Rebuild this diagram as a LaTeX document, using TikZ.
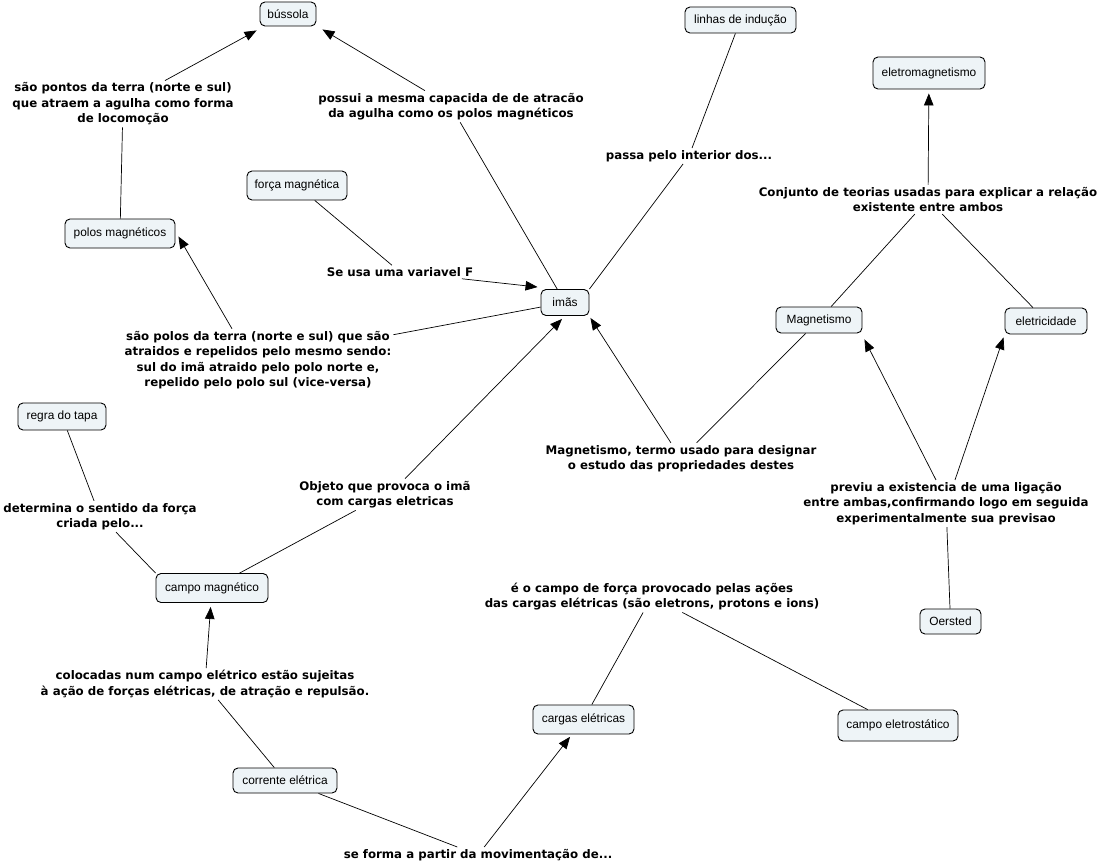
\documentclass[tikz,border=0pt]{standalone}
\usepackage{fontspec}
\setmainfont{Liberation Sans}
\newfontfamily\lkfont{DejaVu Sans}
\usetikzlibrary{arrows.meta,calc}
\definecolor{cfill}{RGB}{238,244,247}
\begin{document}
\begin{tikzpicture}[x=1pt,y=-1pt,
  concept/.style={draw=black, line width=0.9pt, fill=cfill, rounded corners=5pt, inner sep=0pt,
    font=\fontsize{11.9}{13}\selectfont},
  link/.style={align=center, inner sep=2pt, font=\lkfont\bfseries\fontsize{11.8}{15.5}\selectfont},
  line/.style={draw=black, line width=0.7pt},
  arr/.style={line, -{Triangle[length=12pt,width=9.5pt]}},
]
\useasboundingbox[fill=white] (0,0) rectangle (1102,864);

% concepts
\node[concept, minimum width=56pt, minimum height=24pt] (bussola) at (288,14) {bússola};
\node[concept, minimum width=111pt, minimum height=26pt] (linhas) at (740.5,20) {linhas de indução};
\node[concept, minimum width=112pt, minimum height=32pt] (eletromag) at (929,73) {eletromagnetismo};
\node[concept, minimum width=100pt, minimum height=29pt] (forca) at (297,185.5) {força magnética};
\node[concept, minimum width=110pt, minimum height=29pt] (polos) at (120,233.5) {polos magnéticos};
\node[concept, minimum width=48pt, minimum height=26pt] (imas) at (565,302.5) {imãs};
\node[concept, minimum width=86pt, minimum height=26pt] (magn) at (819,320) {Magnetismo};
\node[concept, minimum width=82pt, minimum height=26pt] (elec) at (1046,321) {eletricidade};
\node[concept, minimum width=88pt, minimum height=27pt] (regra) at (62,416.5) {regra do tapa};
\node[concept, minimum width=112pt, minimum height=29pt] (campomag) at (212,588) {campo magnético};
\node[concept, minimum width=61pt, minimum height=25pt] (oersted) at (950.5,621.5) {Oersted};
\node[concept, minimum width=104pt, minimum height=25pt] (corrente) at (285,780.5) {corrente elétrica};
\node[concept, minimum width=101pt, minimum height=29pt] (cargas) at (583.5,719.5) {cargas elétricas};
\node[concept, minimum width=120pt, minimum height=31pt] (eletrost) at (898,725.5) {campo eletrostático};

% linking phrases
\node[link] (L1) at (123,104) {são pontos da terra (norte e sul)\\que atraem a agulha como forma\\de locomoção};
\node[link] (L2) at (451,106.5) {possui a mesma capacida de de atracão\\da agulha como os polos magnéticos};
\node[link] (L3) at (689,156) {passa pelo interior dos...};
\node[link] (L4) at (928,199.5) {Conjunto de teorias usadas para explicar a relação\\existente entre ambos};
\node[link] (L5) at (400,272) {Se usa uma variavel F};
\node[link] (L6) at (258,360) {são polos da terra (norte e sul) que são\\atraidos e repelidos pelo mesmo sendo:\\sul do imã atraido pelo polo norte e,\\repelido pelo polo sul (vice-versa)};
\node[link] (L7) at (681,458.5) {Magnetismo, termo usado para designar\\o estudo das propriedades destes};
\node[link] (L8) at (385,494.5) {Objeto que provoca o imã\\com cargas eletricas};
\node[link] (L9) at (100,516.5) {determina o sentido da força\\criada pelo...};
\node[link] (L10) at (946,503.5) {previu a existencia de uma ligação\\entre ambas,confirmando logo em seguida\\experimentalmente sua previsao};
\node[link] (L11) at (652,596.5) {é o campo de força provocado pelas ações\\das cargas elétricas (são eletrons, protons e ions)};
\node[link] (L12) at (205,684) {colocadas num campo elétrico estão sujeitas\\à ação de forças elétricas, de atração e repulsão.};
\node[link] (L13) at (478,855) {se forma a partir da movimentação de...};

% connectors
\draw[line] (polos) -- (L1);
\draw[arr] ([xshift=42pt]L1.north) -- ([xshift=-3pt,yshift=-4pt]bussola.south west);
\draw[line] (imas) -- (L2);
\draw[arr] ([xshift=-26pt]L2.north) -- ([xshift=6pt,yshift=-3pt]bussola.south east);
\draw[line] (imas.north east) -- (L3);
\draw[line] (L3) -- (linhas);
\draw[line] (forca) -- (L5);
\draw[arr] (L5) -- ([xshift=-3pt,yshift=2pt]imas.north west);
\draw[line] (imas) -- (L6);
\draw[arr] ([xshift=-26pt]L6.north) -- ([xshift=3pt,yshift=-3pt]polos.east);
\draw[line] (magn) -- (L7);
\draw[arr] (L7) -- ([xshift=1pt,yshift=-2pt]imas.south east);
\draw[arr] ([xshift=20pt]L8.north) -- ([xshift=-3pt,yshift=-3pt]imas.south);
\draw[line] (campomag) -- (L8);
\draw[line] (regra) -- (L9);
\draw[line] ([xshift=16pt]L9.south) -- (campomag.north west);
\draw[line] (corrente) -- (L12);
\draw[arr, shorten >=4pt] (L12) -- (campomag);
\draw[line] (corrente) -- (L13);
\draw[arr, shorten >=3pt] (L13) -- (cargas);
\draw[line] (cargas) -- (L11);
\draw[line] (L11) -- (eletrost);
\draw[line] (magn) -- (L4);
\draw[line] (elec) -- (L4);
\draw[arr, shorten >=4pt] (L4) -- (eletromag);
\draw[line] (oersted) -- (L10);
\draw[arr] ([xshift=-10pt]L10.north) -- ([xshift=2pt,yshift=-6pt]magn.south east);
\draw[arr] ([xshift=9pt]L10.north) -- ([xshift=-1pt,yshift=-3pt]elec.south west);
\end{tikzpicture}
\end{document}
